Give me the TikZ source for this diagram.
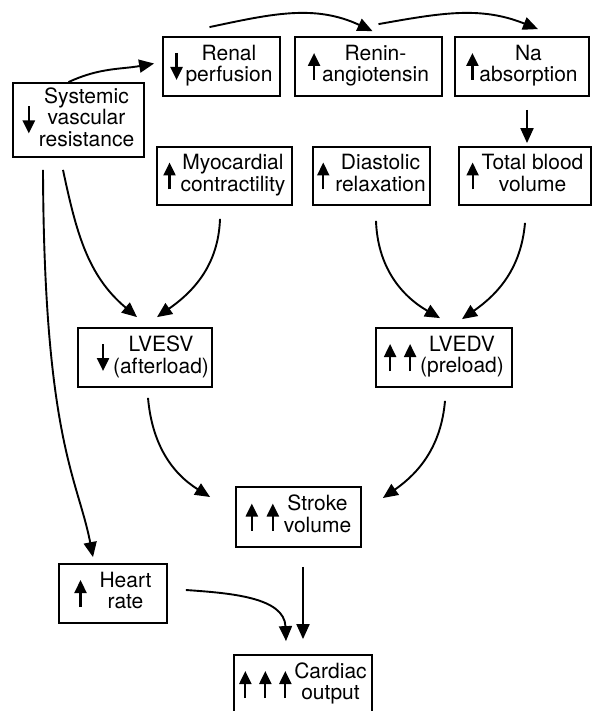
\documentclass[tikz,border=0pt]{standalone}
\usepackage{fontspec}
\setmainfont{TeX Gyre Heros}
\usetikzlibrary{arrows.meta}

\tikzset{
  box/.style={draw, line width=1.8pt, inner xsep=3pt, inner ysep=2pt,
    minimum height=59pt, font=\fontsize{21}{21}\selectfont},
  link/.style={line width=1.9pt, -{Triangle[length=15pt,width=13pt]}},
}
% small up / down arrows set inside the boxes
\newcommand\upa{$\vcenter{\hbox{\tikz\draw[line width=2.2pt,-{Triangle[length=13pt,width=12pt]}] (0,0) -- (0,27pt);}}$}
\newcommand\dna{$\vcenter{\hbox{\tikz\draw[line width=2.2pt,-{Triangle[length=13pt,width=12pt]}] (0,27pt) -- (0,0);}}$}
\newcommand\lines[1]{\begin{tabular}{@{}c@{}}#1\end{tabular}}

\begin{document}
\begin{tikzpicture}[x=1pt,y=1pt]
  \useasboundingbox (0,0) rectangle (592,-711);

  % first rows
  \node[box, minimum width=131pt, minimum height=74pt] (svr) at (78.5,-120) {\dna\hspace{4pt}\lines{Systemic\\vascular\\resistance}};
  \node[box, minimum width=117pt] (ren) at (221.5,-66.5) {\dna\hspace{3pt}\lines{Renal\\perfusion}};
  \node[box, minimum width=147pt] (rnn) at (368.5,-66.5) {\upa\hspace{2pt}\lines{Renin-\\angiotensin}};
  \node[box, minimum width=134pt] (na) at (522,-66.5) {\upa\hspace{1pt}\lines{Na\\absorption}};
  \node[box, minimum width=135pt, minimum height=58pt] (myo) at (224.5,-176) {\upa\hspace{5pt}\lines{Myocardial\\contractility}};
  \node[box, minimum width=117pt, minimum height=58pt] (dia) at (371.5,-176) {\upa\hspace{6pt}\lines{Diastolic\\relaxation}};
  \node[box, minimum width=132pt, minimum height=58pt] (tbv) at (525,-176) {\upa\hspace{3pt}\lines{Total blood\\volume}};

  % ventricle volumes
  \node[box, minimum width=134pt] (esv) at (145,-357.5) {\hspace{16pt}\dna\hspace{4pt}\lines{LVESV\\(afterload)}};
  \node[box, minimum width=136pt] (edv) at (444,-357.5) {\upa\hspace{8pt}\upa\hspace{4pt}\lines{LVEDV\\(preload)}};

  % output
  \node[box, minimum width=125pt, minimum height=60pt] (sv) at (298.5,-517) {\upa\hspace{9pt}\upa\hspace{5pt}\lines{Stroke\\volume}};
  \node[box, minimum width=108pt] (hr) at (113,-593.5) {\upa\hspace{13pt}\lines{Heart\\rate}};
  \node[box, minimum width=138pt] (co) at (303,-684.5) {\upa\hspace{8pt}\upa\hspace{8pt}\upa\hspace{3pt}\lines{Cardiac\\output}};

  % connectors
  \draw[link] ([xshift=-10pt]svr.north) to[out=25,in=190] ([xshift=-8pt,yshift=3pt]ren.west);
  \draw[link] ([xshift=-12pt,yshift=9pt]ren.north) to[out=12,in=155] ([xshift=4pt,yshift=5pt]rnn.north);
  \draw[link] ([xshift=10pt,yshift=12pt]rnn.north) to[out=10,in=158] ([xshift=16pt,yshift=7pt]na.north);
  \draw[link] ([xshift=5pt,yshift=-13pt]na.south) -- ([xshift=2pt,yshift=3pt]tbv.north);
  \draw[link] ([xshift=-35.5pt,yshift=-12pt]svr.south) .. controls +(1,-270) and +(-15,78) .. ([xshift=-20pt,yshift=6pt]hr.north);
  \draw[link] ([xshift=-15.5pt,yshift=-12pt]svr.south) to[out=-78,in=140] ([xshift=-8pt,yshift=10pt]esv.north);
  \draw[link] ([xshift=-4.5pt,yshift=-13pt]myo.south) to[out=-92,in=35] ([xshift=12pt,yshift=10pt]esv.north);
  \draw[link] ([xshift=4.5pt,yshift=-15pt]dia.south) to[out=-88,in=150] ([xshift=-4pt,yshift=9pt]edv.north);
  \draw[link] ([yshift=-17pt]tbv.south) to[out=-95,in=35] ([xshift=18pt,yshift=8pt]edv.north);
  \draw[link] ([xshift=3pt,yshift=-10pt]esv.south) to[out=-85,in=148] ([xshift=-25pt,yshift=20pt]sv.west);
  \draw[link] ([xshift=1pt,yshift=-13pt]edv.south) to[out=-95,in=35] ([xshift=21pt,yshift=19pt]sv.east);
  \draw[link] ([xshift=4.5pt,yshift=-19pt]sv.south) -- ([yshift=15pt]co.north);
  \draw[link] ([xshift=18pt,yshift=3.5pt]hr.east) to[out=-4,in=92] ([xshift=-17pt,yshift=13pt]co.north);
\end{tikzpicture}
\end{document}
